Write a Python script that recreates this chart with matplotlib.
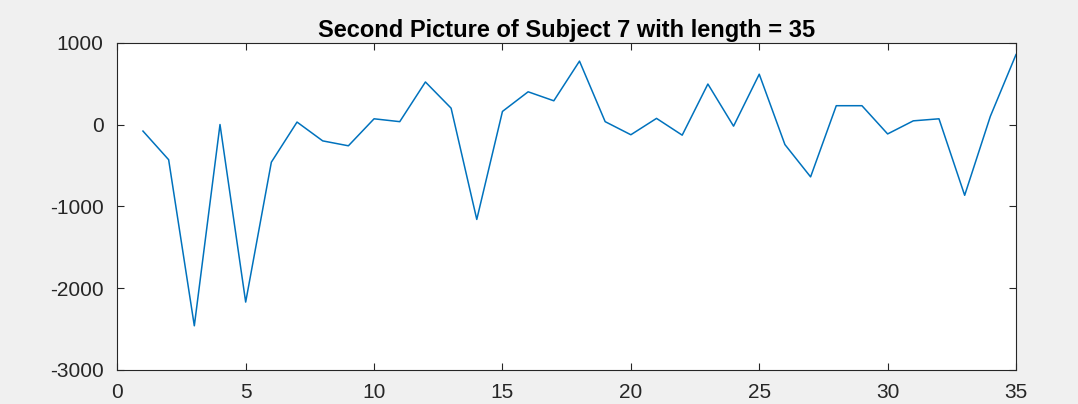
import matplotlib
matplotlib.use("Agg")
import matplotlib.pyplot as plt

plt.rcParams['font.family'] = ['Liberation Sans', 'DejaVu Sans']
plt.rcParams['axes.unicode_minus'] = False

# sample index and signal values for subject 7, picture 2
sample = list(range(1, 36))
signal = [-80, -430, -2460, 0, -2170, -460, 30, -200, -260, 70,
          35, 520, 200, -1160, 160, 400, 290, 775, 35, -125,
          75, -130, 495, -20, 615, -245, -640, 230, 230, -115,
          45, 70, -865, 100, 855]

title_text = "Second Picture of Subject 7 with length = 35"
x_ticks = [0, 5, 10, 15, 20, 25, 30, 35]
y_ticks = [-3000, -2000, -1000, 0, 1000]

axis_color = '#262626'

fig = plt.figure(figsize=(10.78, 4.04), dpi=100, facecolor='#f0f0f0')
ax = fig.add_axes([0.1088, 0.0842, 0.8337, 0.8101])
ax.set_facecolor('white')

ax.plot(sample, signal, color='#0072BD', linewidth=1.1)

ax.set_xlim(0, 35)
ax.set_ylim(-3000, 1000)
ax.set_xticks(x_ticks)
ax.set_yticks(y_ticks)

ax.tick_params(direction='in', length=5, width=0.8, colors=axis_color,
               labelsize=15, top=True, right=True)
ax.tick_params(axis='x', pad=9.5)
ax.tick_params(axis='y', pad=10)
for spine in ax.spines.values():
    spine.set_color(axis_color)
    spine.set_linewidth(0.8)

ax.set_title(title_text, fontsize=17, fontweight='bold', color='black', pad=4)

fig.savefig("out.png", dpi=100, facecolor=fig.get_facecolor())
